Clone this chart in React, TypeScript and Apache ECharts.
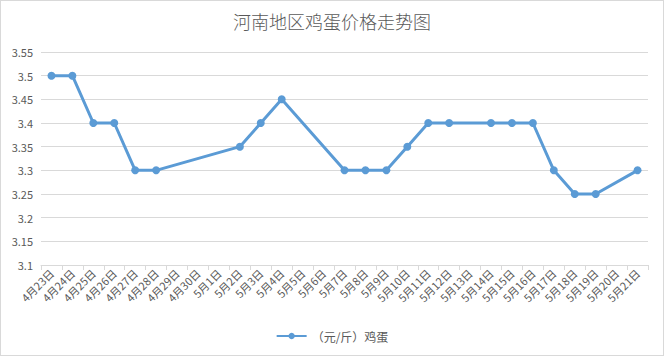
import React, { useEffect, useRef } from "react";
import * as echarts from "echarts";

const title = "河南地区鸡蛋价格走势图";
const seriesName = "（元/斤）鸡蛋";
const categories = [
  "4月23日", "4月24日", "4月25日", "4月26日", "4月27日", "4月28日", "4月29日", "4月30日",
  "5月1日", "5月2日", "5月3日", "5月4日", "5月5日", "5月6日", "5月7日", "5月8日", "5月9日",
  "5月10日", "5月11日", "5月12日", "5月13日", "5月14日", "5月15日", "5月16日", "5月17日",
  "5月18日", "5月19日", "5月20日", "5月21日",
];
const prices: (number | null)[] = [
  3.5, 3.5, 3.4, 3.4, 3.3, 3.3, null, null,
  null, 3.35, 3.4, 3.45, null, null, 3.3, 3.3, 3.3,
  3.35, 3.4, 3.4, null, 3.4, 3.4, 3.4, 3.3,
  3.25, 3.25, null, 3.3,
];
const yMin = 3.1;
const yMax = 3.55;
const yStep = 0.05;

export default function App() {
  const ref = useRef<HTMLDivElement>(null);
  useEffect(() => {
    document.body.style.margin = "0";
    const chart = echarts.init(ref.current!, undefined, { renderer: "svg" });
    const font = "'Noto Sans CJK SC', 'Noto Sans', sans-serif";
    chart.setOption({
      animation: false,
      backgroundColor: "#ffffff",
      title: {
        text: title,
        left: "center",
        top: 6,
        textStyle: { fontFamily: font, fontSize: 18, fontWeight: 300, color: "#595959" },
      },
      grid: { left: 40, right: 15, top: 51, bottom: 90, containLabel: false },
      legend: {
        bottom: 8,
        left: "center",
        itemWidth: 30,
        itemHeight: 8,
        textStyle: { fontFamily: font, fontSize: 12, color: "#595959" },
        data: [{ name: seriesName }],
      },
      xAxis: {
        type: "category",
        data: categories,
        boundaryGap: true,
        axisLine: { lineStyle: { color: "#d9d9d9" } },
        axisTick: { show: true, lineStyle: { color: "#d9d9d9" }, length: 5 },
        axisLabel: {
          rotate: 45,
          interval: 0,
          fontFamily: font,
          fontSize: 11,
          color: "#595959",
          margin: 6,
        },
      },
      yAxis: {
        type: "value",
        min: yMin,
        max: yMax,
        interval: yStep,
        axisLine: { show: false },
        axisTick: { show: false },
        splitLine: { lineStyle: { color: "#d9d9d9" } },
        axisLabel: {
          fontFamily: font,
          fontSize: 11,
          color: "#595959",
          margin: 8,
          formatter: (v: number) => String(parseFloat(v.toFixed(2))),
        },
      },
      series: [
        {
          name: seriesName,
          type: "line",
          data: prices,
          connectNulls: true,
          symbol: "circle",
          symbolSize: 8,
          lineStyle: { color: "#5B9BD5", width: 3 },
          itemStyle: { color: "#5B9BD5" },
        },
      ],
    });
    return () => chart.dispose();
  }, []);
  return (
    <div
      ref={ref}
      style={{
        position: "absolute",
        left: 0,
        top: 0,
        width: 664,
        height: 356,
        boxSizing: "border-box",
        border: "1px solid #d9d9d9",
      }}
    />
  );
}
